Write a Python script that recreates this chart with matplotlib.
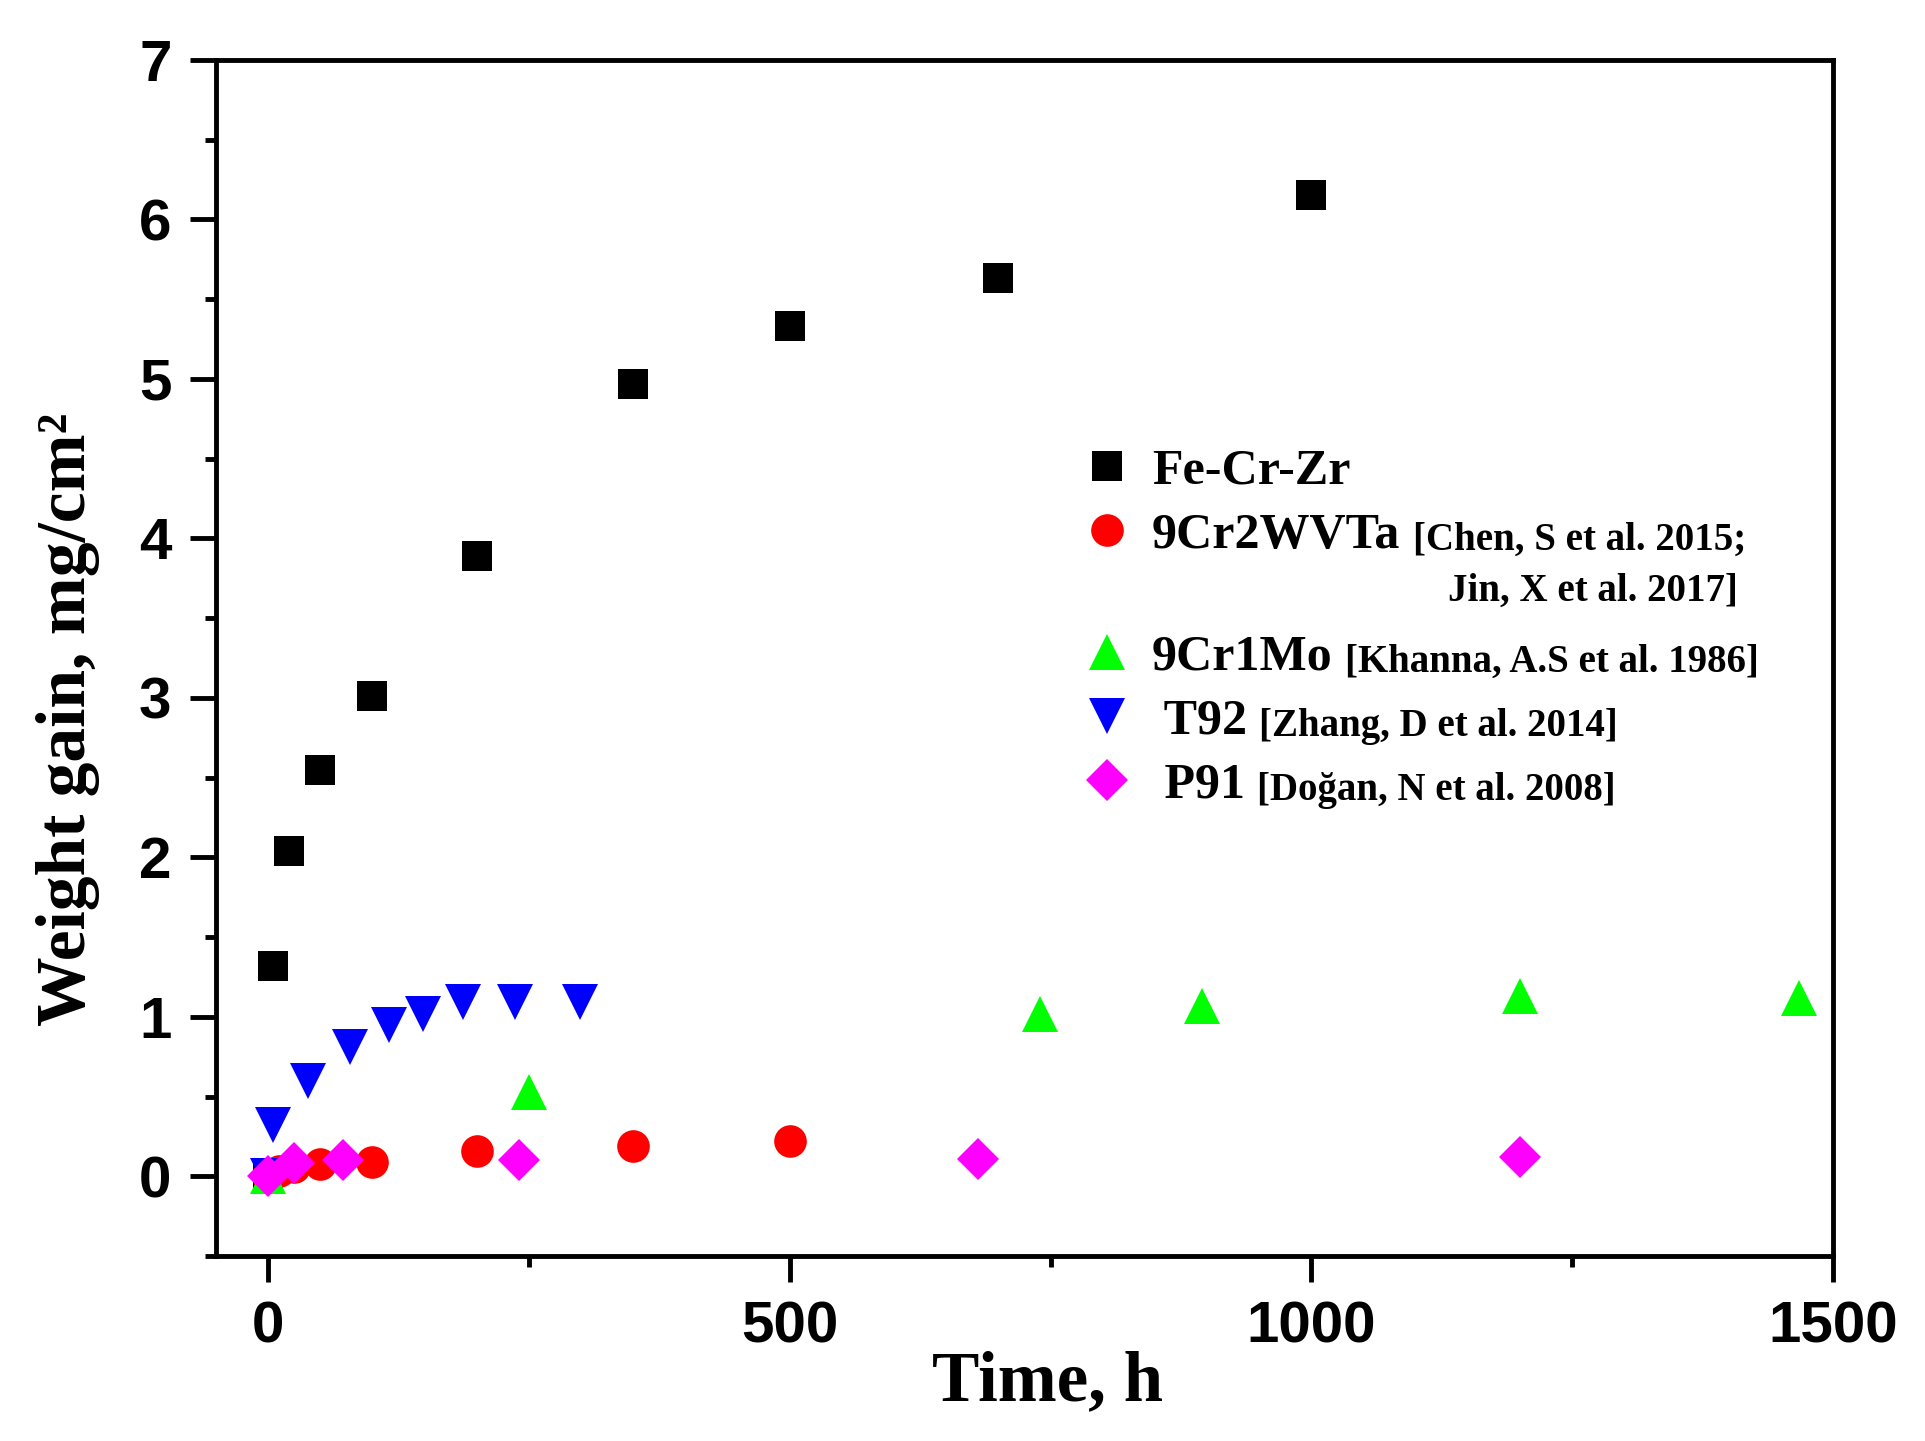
import matplotlib.pyplot as plt
from matplotlib.ticker import MultipleLocator
from matplotlib.lines import Line2D

# values
fecrzr_t = [0, 5, 20, 50, 100, 200, 350, 500, 700, 1000]
fecrzr_w = [0, 1.32, 2.04, 2.55, 3.01, 3.89, 4.97, 5.33, 5.63, 6.15]
cr2w_t = [0, 10, 25, 50, 100, 200, 350, 500]
cr2w_w = [0, 0.03, 0.06, 0.075, 0.09, 0.16, 0.19, 0.22]
cr1mo_t = [0, 250, 740, 895, 1200, 1467]
cr1mo_w = [0, 0.53, 1.02, 1.07, 1.13, 1.12]
t92_t = [0, 5, 38, 78, 116, 148, 187, 237, 299]
t92_w = [0, 0.32, 0.60, 0.81, 0.95, 1.02, 1.09, 1.09, 1.09]
p91_t = [0, 25, 72, 240, 680, 1200]
p91_w = [0, 0.08, 0.10, 0.10, 0.11, 0.12]

names = ["Fe-Cr-Zr", "9Cr2WVTa", " ", "9Cr1Mo", " T92", " P91"]
serif = "Liberation Serif"
sans = "Liberation Sans"

fig = plt.figure(figsize=(19.25, 14.41), dpi=100)
ax = fig.add_axes([0.1122, 0.1284, 0.8400, 0.8300])

h1, = ax.plot(fecrzr_t, fecrzr_w, "s", color="black", ms=21.5, mew=0)
h2, = ax.plot(cr2w_t, cr2w_w, "o", color="#ff0000", ms=23.5, mew=0)
h3, = ax.plot(cr1mo_t, cr1mo_w, "^", color="#00ff00", ms=26, mew=0)
h4, = ax.plot(t92_t, t92_w, "v", color="#0000ff", ms=26, mew=0)
h5, = ax.plot(p91_t, p91_w, "D", color="#ff00ff", ms=21, mew=0)
blank = Line2D([], [], linestyle="none")

ax.set_xlim(-50, 1500)
ax.set_ylim(-0.5, 7)
ax.set_xticks([0, 500, 1000, 1500])
ax.set_yticks(range(0, 8))
ax.xaxis.set_minor_locator(MultipleLocator(250))
ax.yaxis.set_minor_locator(MultipleLocator(0.5))
ax.tick_params(which="both", direction="out", top=False, right=False, width=3.5)
ax.tick_params(which="major", length=19, pad=13, labelsize=42)
ax.tick_params(which="minor", length=8)
for lab in ax.get_xticklabels() + ax.get_yticklabels():
    lab.set_fontfamily(sans)
    lab.set_fontweight("bold")
for sp in ax.spines.values():
    sp.set_linewidth(3.5)

ax.set_xlabel("Time, h", fontsize=51, fontweight="bold", fontfamily=serif)
ax.set_ylabel("Weight gain, mg/cm²", fontsize=50, fontweight="bold", fontfamily=serif)
ax.xaxis.set_label_coords(0.514, -0.079)
ax.yaxis.set_label_coords(-0.072, 0.449)

leg = ax.legend([h1, h2, blank, h3, h4, h5], names, loc="upper left",
                bbox_to_anchor=(0.520, 0.696), frameon=False, borderpad=0,
                handlelength=1.0, handletextpad=0.4, labelspacing=0.36,
                prop={"family": serif, "weight": "bold", "size": 36})
texts = leg.get_texts()
texts[2].set_fontsize(18)

cites = {1: "[Chen, S et al. 2015;", 3: "[Khanna, A.S et al. 1986]",
         4: "[Zhang, D et al. 2014]", 5: "[Doğan, N et al. 2008]"}
cite_kw = dict(fontsize=28, fontweight="bold", fontfamily=serif, zorder=6)
first = None
for i, s in cites.items():
    a = ax.annotate(s, xy=(1, 0), xycoords=texts[i], xytext=(9, 0),
                    textcoords="offset points", ha="left", va="bottom", **cite_kw)
    if i == 1:
        first = a
ax.annotate("Jin, X et al. 2017]", xy=(1, 0), xycoords=first, xytext=(-6, -10),
            textcoords="offset points", ha="right", va="top", **cite_kw)

fig.savefig("out.png", dpi=100)
